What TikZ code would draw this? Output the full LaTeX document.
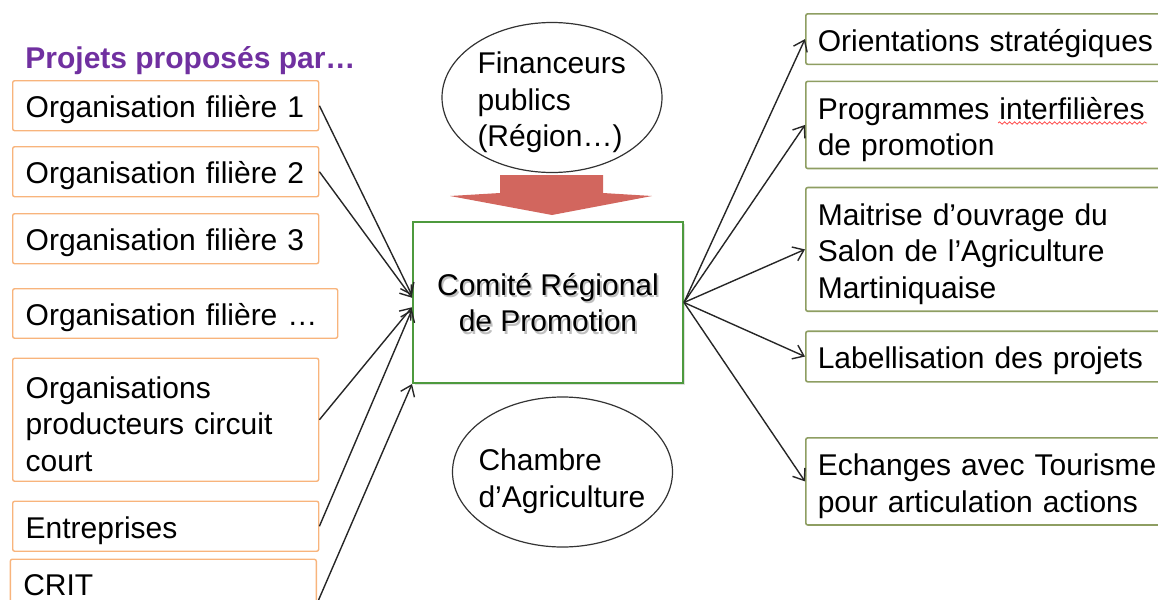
\documentclass[tikz,border=0pt]{standalone}
\usepackage{fontspec}
\setmainfont{Liberation Sans}
\usepackage{xcolor}
\usetikzlibrary{shapes.geometric, arrows.meta, positioning, shadows, decorations.pathmorphing}

\definecolor{projpurple}{HTML}{7030A0}
\definecolor{boxorange}{HTML}{F8B47C}
\definecolor{boxolive}{HTML}{8E9E62}
\definecolor{crpgreen}{HTML}{4E9A3E}
\definecolor{finred}{HTML}{D2665E}

\begin{document}
\begin{tikzpicture}[
    x=0.5pt, y=-0.5pt,
    every node/.style={font=\fontsize{15}{18.3}\selectfont},
    leftbox/.style={rectangle, draw=boxorange, line width=0.7pt, rounded corners=1pt, fill=white, text width=140pt, inner xsep=6.5pt, minimum height=25pt, align=left, anchor=north west, execute at begin node={\rule{0pt}{15pt}}},
    rightbox/.style={rectangle, draw=boxolive, line width=0.8pt, rounded corners=1pt, fill=white, text width=173pt, inner xsep=6pt, minimum height=25pt, align=left, anchor=north west, execute at begin node={\rule{0pt}{15.5pt}}},
    actor/.style={ellipse, draw=black!80, line width=0.6pt, minimum width=110pt, minimum height=75pt, inner sep=-8pt, align=left, execute at begin node={\rule{0pt}{#1}}},
    comite/.style={rectangle, draw=crpgreen, line width=1pt, fill=white, minimum width=135pt, minimum height=80.5pt, align=center, drop shadow={shadow xshift=1.2pt, shadow yshift=-1.2pt, opacity=.25}},
    link/.style={-{Straight Barb[length=5pt, width=7.5pt]}, line width=0.7pt, draw=black!85}
]
\useasboundingbox (0,0) rectangle (1158,600);
\clip (0,0) rectangle (1158,600);

% projects column
\node[inner sep=0pt, anchor=west, text=projpurple, font=\fontsize{15}{18}\selectfont\bfseries] (title) at (25,61) {Projets proposés par…};
\node[leftbox] (org1) at (12,80) {Organisation filière 1};
\node[leftbox, below=7.3pt of org1.south west, anchor=north west] (org2) {Organisation filière 2};
\node[leftbox, below=7.8pt of org2.south west, anchor=north west] (org3) {Organisation filière 3};
\node[leftbox, below=11.8pt of org3.south west, anchor=north west, text width=149.5pt, minimum height=24.5pt] (org4) {Organisation filière …};
\node[leftbox, below=9.3pt of org4.south west, anchor=north west, minimum height=61.5pt] (org5) {Organisations\\producteurs circuit\\court};
\node[leftbox, below=9.3pt of org5.south west, anchor=north west] (org6) {Entreprises};
\node[leftbox, below=3.3pt of org6.south west, anchor=north west, xshift=-1.2pt, minimum height=20.5pt] (crit) {CRIT};

% committee and partners
\node[actor=16pt, text width=74.5pt] (fin) at (552,97.5) {Financeurs\\publics\\(Région…)};
\node[comite, path picture={\node[text=black!25, align=center] (crpshade) at ([shift={(0.9pt,-1.3pt)}]path picture bounding box.center) {Comité Régional\\de Promotion};}] (crp) at (548,302.5) {Comité Régional\\de Promotion};
\node[actor=20pt, text width=84pt] (cha) at (562.5,472) {Chambre\\d'Agriculture};
\fill[finred] (500,175) -- (603,175) -- (603,193) -- (652,196) -- (552,215) -- (450,196) -- (500,193) -- cycle;

% missions column
\node[rightbox] (orient) at (805,13) {Orientations stratégiques};
\node[rightbox, below=7.7pt of orient.south west, anchor=north west, minimum height=43pt] (prog) {Programmes interfilières\\de promotion};
\node[rightbox, below=8.7pt of prog.south west, anchor=north west, minimum height=61pt] (salon) {Maitrise d'ouvrage du\\Salon de l'Agriculture\\Martiniquaise};
\node[rightbox, below=9.2pt of salon.south west, anchor=north west] (label) {Labellisation des projets};
\node[rightbox, below=27.2pt of label.south west, anchor=north west, minimum height=43.5pt] (tour) {Echanges avec Tourisme\\pour articulation actions};
\draw[red!70, line width=0.4pt, decorate, decoration={snake, amplitude=0.6pt, segment length=2.5pt}] (998,123) -- (1147,123);

% links
\draw[link] (org1.east) -- (crp.177);
\draw[link] (org2.east) -- (crp.178);
\draw[link] (org5.east) -- (crp.182);
\draw[link] (org6.east) -- (crp.183);
\draw[link] (crit.south east) -- (crp.south west);
\foreach \mission in {orient, prog, salon, label, tour}
    \draw[link] (crp.east) -- (\mission.west);

\end{tikzpicture}
\end{document}
